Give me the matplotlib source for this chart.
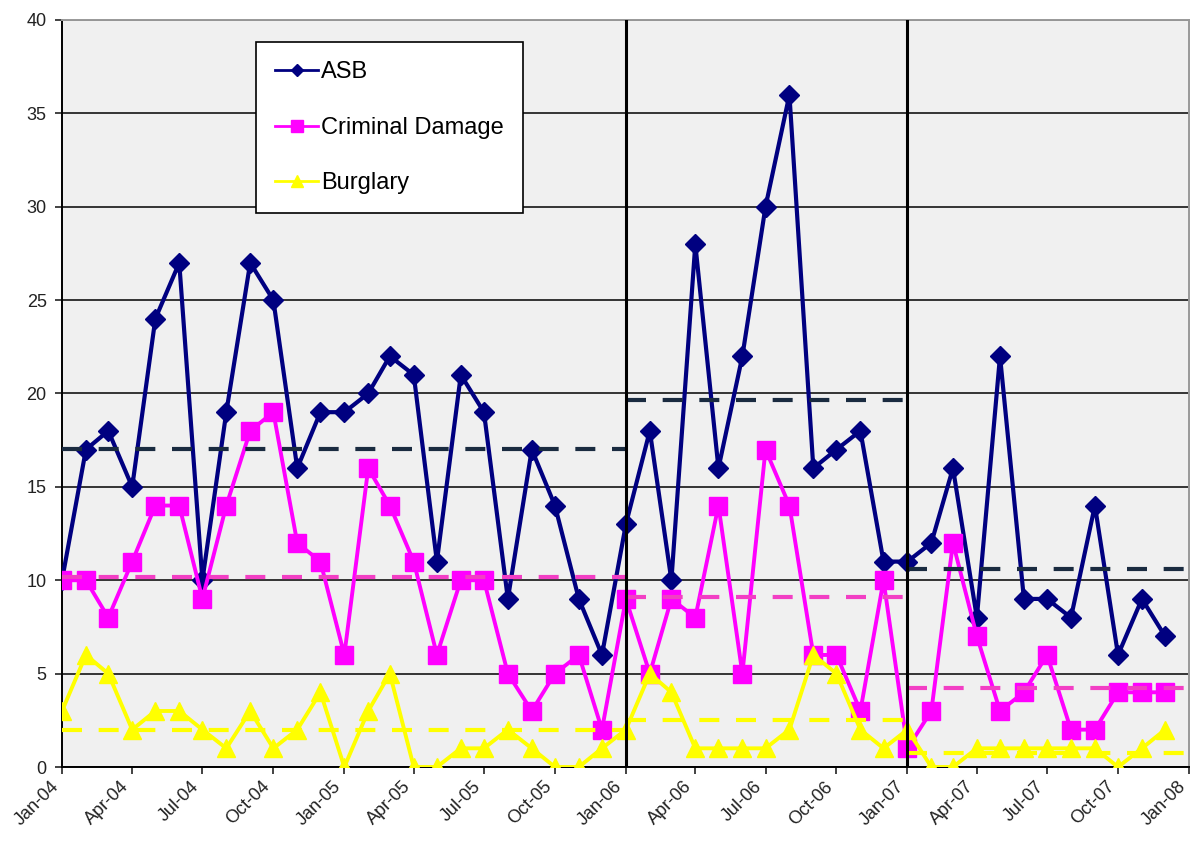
import matplotlib
matplotlib.use('Agg')
import matplotlib.pyplot as plt
import matplotlib.dates as mdates
from matplotlib.lines import Line2D
import pandas as pd

plt.rcParams['font.family'] = ['Liberation Sans', 'DejaVu Sans']

# monthly counts, Jan-04 .. Dec-07
months = pd.date_range('2004-01-01', '2007-12-01', freq='MS')

asb = [10, 17, 18, 15, 24, 27, 10, 19, 27, 25, 16, 19,
       19, 20, 22, 21, 11, 21, 19, 9, 17, 14, 9, 6,
       13, 18, 10, 28, 16, 22, 30, 36, 16, 17, 18, 11,
       11, 12, 16, 8, 22, 9, 9, 8, 14, 6, 9, 7]
criminal_damage = [10, 10, 8, 11, 14, 14, 9, 14, 18, 19, 12, 11,
                   6, 16, 14, 11, 6, 10, 10, 5, 3, 5, 6, 2,
                   9, 5, 9, 8, 14, 5, 17, 14, 6, 6, 3, 10,
                   1, 3, 12, 7, 3, 4, 6, 2, 2, 4, 4, 4]
burglary = [3, 6, 5, 2, 3, 3, 2, 1, 3, 1, 2, 4,
            0, 3, 5, 0, 0, 1, 1, 2, 1, 0, 0, 1,
            2, 5, 4, 1, 1, 1, 1, 2, 6, 5, 2, 1,
            2, 0, 0, 1, 1, 1, 1, 1, 1, 0, 1, 2]

# period averages (dashed lines)
period_start = ['2004-01-01', '2006-01-01', '2007-01-01']
period_end = ['2006-01-01', '2007-01-01', '2008-01-25']
asb_avg = [17.05, 19.65, 10.6]
cd_avg = [10.15, 9.1, 4.25]
burglary_avg = [2.0, 2.5, 0.75]

period_breaks = ['2006-01-01', '2007-01-01']

W, H = 1197, 843
fig = plt.figure(figsize=(W / 100, H / 100), dpi=100)
ax = fig.add_axes([62 / W, 1 - 767 / H, (1189 - 62) / W, (767 - 20) / H])
ax.set_facecolor('#f0f0f0')

navy = '#000080'
magenta = '#ff00ff'
yellow = '#ffff00'

ax.plot(months, asb, color=navy, lw=3, marker='D', ms=10.5, zorder=3)
ax.plot(months, criminal_damage, color=magenta, lw=2.8, marker='s', ms=12.5,
        zorder=4)
ax.plot(months, burglary, color=yellow, lw=2.8, marker='^', ms=13, zorder=5)

xs = mdates.date2num(pd.to_datetime(period_start))
xe = mdates.date2num(pd.to_datetime(period_end))
for i in range(3):
    ax.plot([xs[i], xe[i]], [asb_avg[i]] * 2, color='#1a2b40', lw=3,
            ls=(0, (4.8, 4.0)), zorder=6, clip_on=False)
    ax.plot([xs[i], xe[i]], [cd_avg[i]] * 2, color='#f23fc4', lw=3,
            ls=(0, (4.8, 4.0)), zorder=6, clip_on=False)
    ax.plot([xs[i], xe[i]], [burglary_avg[i]] * 2, color=yellow, lw=3,
            ls=(0, (4.8, 4.0)), zorder=6, clip_on=False)

for d in period_breaks:
    ax.axvline(pd.Timestamp(d), color='black', lw=2.2, zorder=7)

ax.set_xlim(pd.Timestamp('2004-01-01'), pd.Timestamp('2008-01-01'))
ax.set_ylim(0, 40)
ax.set_yticks(range(0, 41, 5))
ax.xaxis.set_major_locator(mdates.MonthLocator(bymonth=[1, 4, 7, 10]))
ax.xaxis.set_major_formatter(mdates.DateFormatter('%b-%y'))
plt.setp(ax.get_xticklabels(), rotation=45, ha='right')

ax.yaxis.grid(True, color='black', lw=1.1)
ax.set_axisbelow(True)
ax.tick_params(axis='both', labelsize=13, colors='#222222', length=5,
               width=1.2, direction='out')
ax.tick_params(axis='y', pad=6)
ax.tick_params(axis='x', pad=3)
for side in ['left', 'bottom']:
    ax.spines[side].set_color('black')
    ax.spines[side].set_linewidth(1.4)
for side in ['top', 'right']:
    ax.spines[side].set_color('#999999')
    ax.spines[side].set_linewidth(1.4)

handles = [
    Line2D([], [], color=navy, lw=2, marker='D', ms=6),
    Line2D([], [], color=magenta, lw=2, marker='s', ms=8),
    Line2D([], [], color=yellow, lw=2, marker='^', ms=9),
]
leg = ax.legend(handles, ['ASB', 'Criminal Damage', 'Burglary'],
                loc='upper left', bbox_to_anchor=(0.1725, 0.970),
                fontsize=17, frameon=True, fancybox=False, shadow=False,
                borderpad=0.8, labelspacing=1.42, handlelength=1.8,
                handletextpad=0.15, borderaxespad=0)
leg.get_frame().set_edgecolor('black')
leg.get_frame().set_linewidth(1.2)
leg.get_frame().set_facecolor('white')
leg.get_frame().set_alpha(1)
leg.set_zorder(10)

fig.savefig('out.png', dpi=100)
